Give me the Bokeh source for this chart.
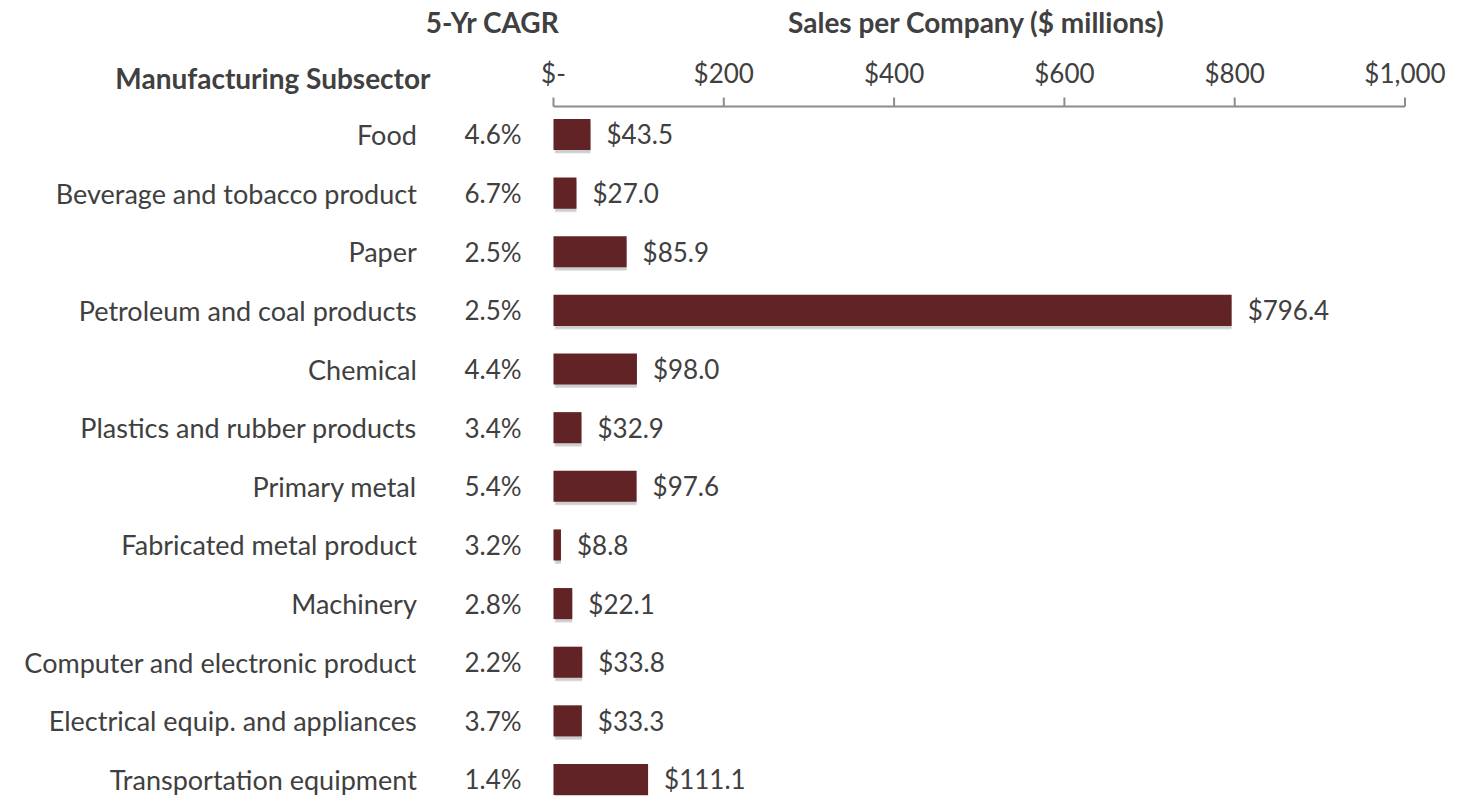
from bokeh.plotting import figure
from bokeh.models import Range1d, ColumnDataSource
from bokeh.core.properties import value
from bokeh.embed import file_html
from bokeh.resources import INLINE

# Manufacturing subsectors, 5-year CAGR and sales per company ($ millions)
subsectors = [
    "Food",
    "Beverage and tobacco product",
    "Paper",
    "Petroleum and coal products",
    "Chemical",
    "Plastics and rubber products",
    "Primary metal",
    "Fabricated metal product",
    "Machinery",
    "Computer and electronic product",
    "Electrical equip. and appliances",
    "Transportation equipment",
]
cagr = ["4.6%", "6.7%", "2.5%", "2.5%", "4.4%", "3.4%",
        "5.4%", "3.2%", "2.8%", "2.2%", "3.7%", "1.4%"]
sales = [43.5, 27.0, 85.9, 796.4, 98.0, 32.9, 97.6, 8.8, 22.1, 33.8, 33.3, 111.1]

tick_values = [0, 200, 400, 600, 800, 1000]
tick_labels = ["$-", "$200", "$400", "$600", "$800", "$1,000"]

headers = ["5-Yr CAGR", "Sales per Company ($ millions)", "Manufacturing Subsector"]

BAR = "#622326"
TEXT = "#404040"
AXIS = "#8c8c8c"
FONT = "Lato"
SIZE = "26px"

# layout in data units: x in $ millions, y in rows (row 0 at top)
AXIS_Y = -0.4775         # sales axis sits just above the first row
NAME_X = -160.5          # right edge of subsector names
CAGR_X = -37.5           # right edge of CAGR column

rows = list(range(len(subsectors)))
src = ColumnDataSource(dict(
    row=rows,
    name=subsectors,
    cagr=cagr,
    sales=sales,
    sales_text=["$%.1f" % v for v in sales],
    shadow_row=[r + 0.06 for r in rows],
))

p = figure(
    width=1463, height=796,
    x_range=Range1d(-649.4, 1068.7),
    y_range=Range1d(11.29, -2.285),
    x_axis_type=None, y_axis_type=None,
    min_border=0, outline_line_color=None,
    toolbar_location=None, output_backend="svg",
)
p.background_fill_color = "white"
p.border_fill_color = "white"

# soft drop shadow under each bar
p.hbar(y="shadow_row", left=1.5, right="sales", height=0.53, source=src,
       fill_color="#000000", fill_alpha=0.12, line_color=None)
p.hbar(y="shadow_row", left=2.5, right="sales", height=0.50, source=src,
       fill_color="#000000", fill_alpha=0.08, line_color=None)
p.hbar(y="row", left=0, right="sales", height=0.53, source=src,
       fill_color=BAR, line_color=None)

# value labels at bar ends
p.text(x="sales", y="row", text="sales_text", source=src, x_offset=16,
       text_align="left", text_baseline="middle", text_font=value(FONT),
       text_font_size=SIZE, text_color=TEXT)

# subsector names and CAGR column
p.text(x=NAME_X, y="row", text="name", source=src,
       text_align="right", text_baseline="middle", text_font=value(FONT),
       text_font_size="27px", text_color=TEXT)
p.text(x=CAGR_X, y="row", text="cagr", source=src,
       text_align="right", text_baseline="middle", text_font=value(FONT),
       text_font_size=SIZE, text_color=TEXT)

# sales axis along the top: rule, upward ticks and dollar labels
p.segment(x0=[tick_values[0]], y0=[AXIS_Y], x1=[tick_values[-1]], y1=[AXIS_Y],
          line_color=AXIS, line_width=2)
p.segment(x0=tick_values, y0=[AXIS_Y] * len(tick_values),
          x1=tick_values, y1=[AXIS_Y - 0.1535] * len(tick_values),
          line_color=AXIS, line_width=2)
p.text(x=tick_values, y=[AXIS_Y] * len(tick_values), text=tick_labels,
       y_offset=-33, text_align="center", text_baseline="middle",
       text_font=value(FONT), text_font_size=SIZE, text_color=TEXT)

# column headers
p.text(x=[-71.6, 496.8], y=[-1.91, -1.91], text=headers[:2],
       text_align="center", text_baseline="middle", text_font=value(FONT),
       text_font_style="bold", text_font_size="28px", text_color=TEXT)
p.text(x=[-144.5], y=[-0.955], text=headers[2:],
       text_align="right", text_baseline="middle", text_font=value(FONT),
       text_font_style="bold", text_font_size="28px", text_color=TEXT)

open("out.html", "w").write(file_html(p, INLINE))
